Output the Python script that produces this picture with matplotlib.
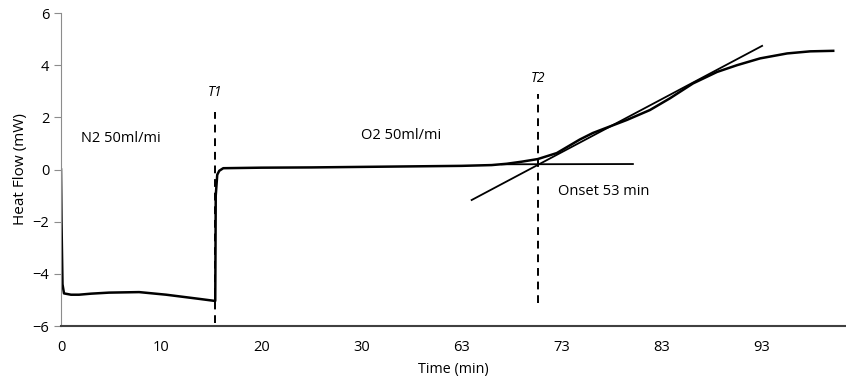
import matplotlib.pyplot as plt

# x positions on the chart's evenly spaced axis (labels jump after 30)
tick_pos = [0, 10, 20, 30, 40, 50, 60, 70]
tick_labels = ['0', '10', '20', '30', '63', '73', '83', '93']

time = [0, 0.05, 0.15, 0.3, 1.0, 1.8, 3.0, 4.8, 7.8, 10.5, 13.8, 15.4,
        15.45, 15.6, 15.8, 16.2, 20, 25, 30, 35, 40, 43, 44.5, 46,
        47.6, 49.5, 51.8, 53.1, 56.5, 58.8, 60.8, 63.1, 65.5, 67.5,
        69.8, 72.5, 74.8, 77.1]
heat_flow = [0.0, -2.0, -4.4, -4.75, -4.8, -4.8, -4.76, -4.72, -4.7, -4.8,
             -4.96, -5.04, -1.0, -0.2, -0.05, 0.05, 0.07, 0.08, 0.1, 0.12,
             0.14, 0.17, 0.22, 0.3, 0.4, 0.63, 1.15, 1.4, 1.9, 2.28, 2.73,
             3.3, 3.74, 4.0, 4.26, 4.45, 4.53, 4.55]

tangent_x = [41.0, 70.0]
tangent_y = [-1.17, 4.74]
baseline_x = [44.0, 57.1]
baseline_y = [0.2, 0.21]

t1_x, t1_y = 15.4, [-5.9, 2.2]
t2_x, t2_y = 47.6, [-5.1, 2.9]

plt.rcParams['font.family'] = ['Open Sans', 'DejaVu Sans']

fig = plt.figure(figsize=(8.46, 3.87), dpi=100)
ax = fig.add_axes([0.0721, 0.1576, 0.927, 0.8088])

ax.plot(time, heat_flow, color='black', lw=1.8)
ax.plot(tangent_x, tangent_y, color='black', lw=1.3)
ax.plot(baseline_x, baseline_y, color='black', lw=1.3)
ax.plot([t1_x, t1_x], t1_y, color='black', lw=1.4, ls=(0, (4, 3)))
ax.plot([t2_x, t2_x], t2_y, color='black', lw=1.4, ls=(0, (4, 3)))

ax.text(t1_x, 2.95, 'T1', style='italic', fontsize=10, ha='center', va='center')
ax.text(t2_x, 3.5, 'T2', style='italic', fontsize=10, ha='center', va='center')
ax.text(2.0, 1.2, 'N2 50ml/mi', fontsize=10.5, va='center')
ax.text(30.0, 1.3, 'O2 50ml/mi', fontsize=10.5, va='center')
ax.text(49.6, -0.85, 'Onset 53 min', fontsize=10.5, va='center')

ax.set_xlim(0, 78.3)
ax.set_ylim(-6, 6)
ax.set_xticks(tick_pos)
ax.set_xticklabels(tick_labels)
ax.set_yticks(range(-6, 7, 2))
ax.set_xlabel('Time (min)', fontsize=10.3, labelpad=5)
ax.set_ylabel('Heat Flow (mW)', fontsize=11, labelpad=3)

for s in ['top', 'right']:
    ax.spines[s].set_visible(False)
ax.spines['left'].set_color('#8c8c8c')
ax.spines['bottom'].set_color('#404040')
ax.spines['bottom'].set_linewidth(1.5)
ax.tick_params(axis='x', length=0, pad=10, labelsize=10.5)
ax.tick_params(axis='y', length=5, color='#8c8c8c', labelsize=10.5)

fig.savefig('out.png', dpi=100)
